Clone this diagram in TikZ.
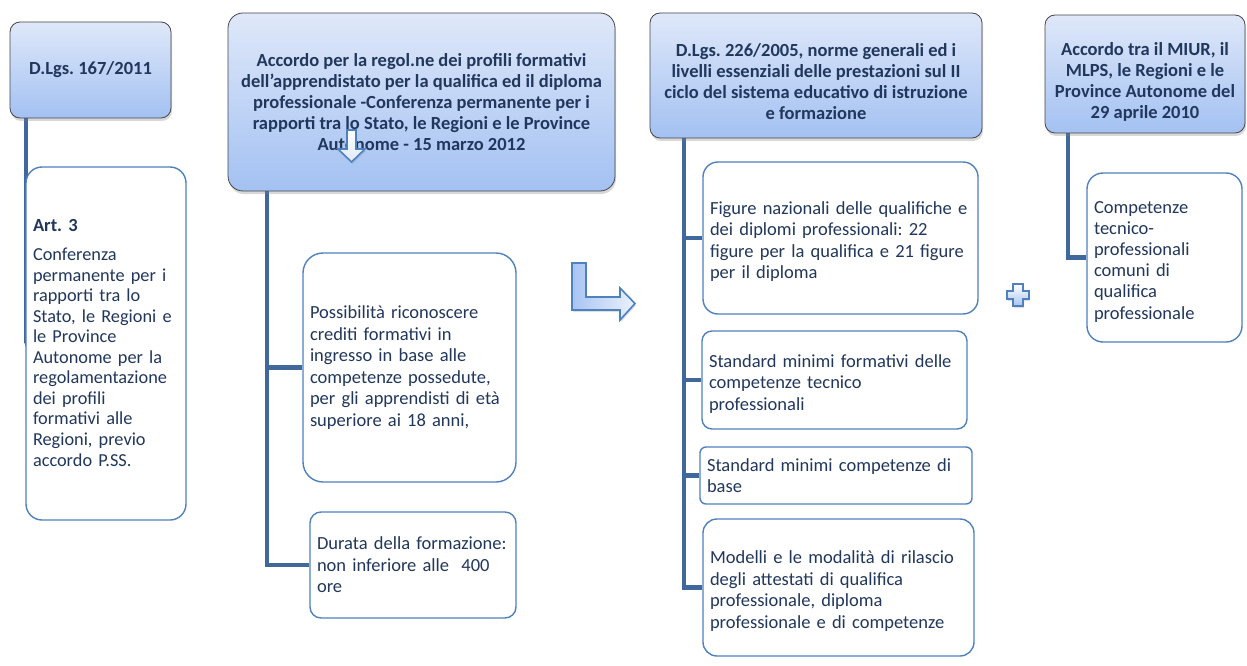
\documentclass[tikz,border=0pt]{standalone}
\usepackage{fontspec}
\setmainfont{Carlito}
\frenchspacing
\usetikzlibrary{shadows,backgrounds}

\definecolor{hdtop}{RGB}{223,232,249}
\definecolor{hdbot}{RGB}{163,193,242}
\definecolor{hdline}{RGB}{70,70,75}
\definecolor{boxline}{RGB}{79,129,189}
\definecolor{connline}{RGB}{65,104,156}
\definecolor{txtblue}{RGB}{33,55,92}
\definecolor{arrtop}{RGB}{168,196,243}

\tikzset{
  hdrbox/.style={draw=hdline, line width=0.8pt, rounded corners=10pt,
    top color=hdtop, bottom color=hdbot, text=txtblue, align=center,
    inner sep=2pt, font=\bfseries\fontsize{18.5}{21}\selectfont,
    drop shadow={shadow xshift=1pt, shadow yshift=-3pt, opacity=0.3}},
  itembox/.style={draw=boxline, line width=1.4pt, fill=white, text=txtblue,
    align=left, inner xsep=7pt, inner ysep=0pt,
    font=\fontsize{18.5}{21.5}\selectfont},
  conn/.style={draw=connline, line width=4.5pt},
  shapearr/.style={draw=boxline, line width=1.6pt, line join=miter,
    drop shadow={shadow xshift=1pt, shadow yshift=-2pt, opacity=0.25}}
}

\begin{document}
\begin{tikzpicture}[x=1pt,y=-1pt]
                    \useasboundingbox (0,0) rectangle (1247,666);

                    % Drawing header 167/2011
                    \node [hdrbox, minimum width=161, minimum height=96] (dlgsA) at (90.5,70) {D.Lgs. 167/2011};%

                    % Drawing box Art. 3
                    \node [itembox, rounded corners=16pt, text width=146, minimum height=353] (artTre) at (106,343.5)
                      {\textbf{Art. 3}\\[8.5pt]\fontsize{18.3}{20.5}\selectfont Conferenza\\permanente per i\\rapporti tra lo\\Stato, le Regioni e\\le Province\\Autonome per la\\regolamentazione\\dei profili\\formativi alle\\Regioni, previo\\accordo P.SS.};%

                    % Drawing header accordo 2012
                    \node [hdrbox, rounded corners=15pt, minimum width=387, minimum height=178] (accordoA) at (421.5,102)
                      {Accordo per la regol.ne dei profili formativi\\dell’apprendistato per la qualifica ed il diploma\\professionale -Conferenza permanente per i\\rapporti tra lo Stato, le Regioni e le Province\\Autonome - 15 marzo 2012};%

                    % Marking arrow inside accordo 2012
                    \draw [shapearr, top color=white, bottom color=hdtop] (347,130) -- (356,130) -- (356,149) -- (365,149) -- (351.5,162) -- (338,149) -- (347,149) -- cycle;%

                    % Drawing box crediti
                    \node [itembox, rounded corners=20pt, text width=199, minimum height=229] (crediti) at (409.5,367.5)
                      {Possibilità riconoscere\\crediti formativi in\\ingresso in base alle\\competenze possedute,\\per gli apprendisti di età\\superiore ai 18 anni,};%

                    % Drawing box durata
                    \node [itembox, rounded corners=11pt, text width=192, minimum height=106] (durata) at (413,565)
                      {Durata della formazione:\\non inferiore alle\ \ 400\\ore};%

                    % Marking bent arrow
                    \draw [shapearr, left color=arrtop, right color=hdtop!60!white] (572,263) -- (586,263) -- (586,297) -- (620,297) -- (620,288) -- (635,303.5) -- (620,320) -- (620,310) -- (572,310) -- cycle;%

                    % Drawing header 226/2005
                    \node [hdrbox, minimum width=332, minimum height=125] (dlgsB) at (816,75.5)
                      {\fontsize{18.5}{20}\selectfont\rule{0pt}{25.5pt}D.Lgs. 226/2005, norme generali ed i\\livelli essenziali delle prestazioni sul II\\ciclo del sistema educativo di istruzione\\e formazione};%

                    % Drawing box figure
                    \node [itembox, rounded corners=15pt, text width=261, minimum height=152] (figure) at (840.5,238)
                      {\rule{0pt}{20pt}Figure nazionali delle qualifiche e\\dei diplomi professionali: 22\\figure per la qualifica e 21 figure\\per il diploma};%

                    % Drawing box standard formativi
                    \node [itembox, rounded corners=10pt, text width=251, minimum height=98] (stdForm) at (834.5,380)
                      {\rule{0pt}{20pt}Standard minimi formativi delle\\competenze tecnico\\professionali};%

                    % Drawing box standard base
                    \node [itembox, rounded corners=6pt, text width=258, minimum height=57] (stdBase) at (836,475.5)
                      {Standard minimi competenze di\\base};%

                    % Drawing box modelli
                    \node [itembox, rounded corners=14pt, text width=257, minimum height=137] (modelli) at (838.5,587.5)
                      {\rule{0pt}{20pt}Modelli e le modalità di rilascio\\degli attestati di qualifica\\professionale, diploma\\professionale e di competenze};%

                    % Marking plus
                    \draw [shapearr, top color=white, bottom color=arrtop] (1013,284) -- (1023,284) -- (1023,291) -- (1029,291) -- (1029,299) -- (1023,299) -- (1023,306) -- (1013,306) -- (1013,299) -- (1007,299) -- (1007,291) -- (1013,291) -- cycle;%

                    % Drawing header accordo 2010
                    \node [hdrbox, minimum width=200, minimum height=118] (accordoB) at (1145,74)
                      {\fontsize{18.5}{20.7}\selectfont\rule{0pt}{29.5pt}Accordo tra il MIUR, il\\MLPS, le Regioni e le\\Province Autonome del\\29 aprile 2010};%

                    % Drawing box competenze
                    \node [itembox, rounded corners=16pt, text width=141, minimum height=169] (competenze) at (1164.5,257.5)
                      {\fontsize{18.5}{21}\selectfont\rule{0pt}{21pt}Competenze\\tecnico-\\professionali\\comuni di\\qualifica\\professionale};%

                    % Drawing connectors
                    \coordinate (trunkA) at (26,118);
                    \coordinate (trunkB) at (267,191);
                    \coordinate (trunkC) at (684,138);
                    \coordinate (trunkD) at (1068,133);
                    \begin{pgfonlayer}{background}
                    \fill [white] (0,0) rectangle (1247,666);
                    \draw [conn] (trunkA) |- (artTre.west);%
                    \draw [conn] (trunkB) |- (crediti.west);%
                    \draw [conn] (trunkB) |- (durata.west);%
                    \draw [conn] (trunkC) |- (figure.west);%
                    \draw [conn] (trunkC) |- (stdForm.west);%
                    \draw [conn] (trunkC) |- (stdBase.west);%
                    \draw [conn] (trunkC) |- (modelli.west);%
                    \draw [conn] (trunkD) |- (competenze.west);%
                    \end{pgfonlayer}
\end{tikzpicture}
\end{document}
